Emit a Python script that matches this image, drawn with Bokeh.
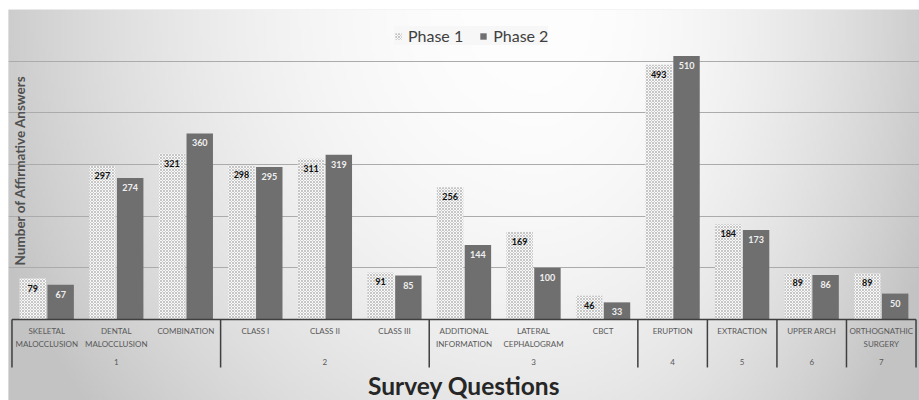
import numpy as np
from math import pi
from bokeh.plotting import figure
from bokeh.models import FactorRange, ColumnDataSource, Legend, LegendItem, Label
from bokeh.transform import dodge
from bokeh.core.properties import value
from bokeh.embed import file_html
from bokeh.resources import INLINE

# ---------------- data ----------------
groups = ["1", "1", "1", "2", "2", "2", "3", "3", "3", "4", "5", "6", "7"]
categories = ["SKELETAL\nMALOCCLUSION", "DENTAL\nMALOCCLUSION", "COMBINATION",
              "CLASS I", "CLASS II", "CLASS III",
              "ADDITIONAL\nINFORMATION", "LATERAL\nCEPHALOGRAM", "CBCT",
              "ERUPTION", "EXTRACTION", "UPPER ARCH", "ORTHOGNATHIC\nSURGERY"]
phase1 = [79, 297, 321, 298, 311, 91, 256, 169, 46, 493, 184, 89, 89]
phase2 = [67, 274, 360, 295, 319, 85, 144, 100, 33, 510, 173, 86, 50]
series_names = ["Phase 1", "Phase 2"]
grid_values = [100, 200, 300, 400, 500, 600]
y_title = "Number of Affirmative Answers"
x_title = "Survey Questions"

# ---------------- layout ----------------
Y0, Y1 = -157, 600
PAD = 0.05
FONT = value("Lato")

factors = list(zip(groups, categories))
xr = FactorRange(*factors, group_padding=0, factor_padding=0,
                 range_padding=PAD, range_padding_units="absolute")

p = figure(width=919, height=400, x_range=xr, y_range=(Y0, Y1),
           output_backend="svg", toolbar_location=None,
           x_axis_location=None, y_axis_location=None,
           min_border_left=8, min_border_right=0, min_border_top=9, min_border_bottom=0)
p.outline_line_color = None
p.border_fill_color = "white"
p.background_fill_color = "#e6e6e6"
p.xgrid.visible = False
p.ygrid.ticker = grid_values
p.ygrid.grid_line_color = "#ababab"
p.ygrid.grid_line_width = 1

# gradient background
n = len(categories)
x_start, x_end = -PAD, n + PAD
H, W = 130, 300
yy, xx = np.mgrid[0:H, 0:W]
xn = xx / (W - 1)
yt = 1.0 - yy / (H - 1)  # 0 at top
cx = 0.58
sx = np.where(xn < cx, cx, 1 - cx)
d = np.sqrt(((xn - cx) / sx) ** 2 + (yt / 1.5) ** 2)
d = np.clip(d, 0, 1.08)
inten = np.clip(254 - 50 * d ** 2, 0, 255).astype(np.uint8)
img = np.empty((H, W), dtype=np.uint32)
view = img.view(dtype=np.uint8).reshape((H, W, 4))
view[..., 0] = inten
view[..., 1] = inten
view[..., 2] = inten
view[..., 3] = 255
p.image_rgba(image=[img], x=x_start - 0.1, y=Y0, dw=(x_end - x_start) + 0.2, dh=Y1 - Y0, level="image")

src = ColumnDataSource(dict(
    x=factors,
    p1=phase1, p2=phase2,
    l1=[str(v) for v in phase1], l2=[str(v) for v in phase2],
    cat=categories,
))

r1 = p.vbar(x=dodge("x", -0.2, range=xr), top="p1", width=0.38, source=src,
            fill_color="#f8f8f8", line_color=None,
            hatch_pattern="diagonal_cross", hatch_color="#c6c6c6", hatch_scale=3, hatch_weight=1)
r2 = p.vbar(x=dodge("x", 0.2, range=xr), top="p2", width=0.38, source=src,
            fill_color="#6f6f6f", line_color=None)

p.text(x=dodge("x", -0.2, range=xr), y="p1", text="l1", source=src,
       text_align="center", text_baseline="top", y_offset=6,
       text_font=FONT, text_font_style="bold", text_font_size="9px", text_color="#111111")
p.text(x=dodge("x", 0.2, range=xr), y="p2", text="l2", source=src,
       text_align="center", text_baseline="top", y_offset=6,
       text_font=FONT, text_font_style="bold", text_font_size="9px", text_color="#f0f0f0")

# category axis
p.text(x="x", y=0, text="cat", source=src, text_align="center", text_baseline="top",
       y_offset=7, text_font=FONT, text_font_size="8px", text_color="#595959",
       text_line_height=1.25)

ugroups = []
for g in groups:
    if g not in ugroups:
        ugroups.append(g)
p.text(x=ugroups, y=[0] * len(ugroups), text=ugroups, text_align="center", text_baseline="middle",
       y_offset=43, text_font=FONT, text_font_size="8px", text_color="#595959")

bounds = [0]
for g in ugroups:
    bounds.append(bounds[-1] + groups.count(g))
p.segment(x0=bounds, y0=[0] * len(bounds), x1=bounds, y1=[-93] * len(bounds),
          line_color="#3f3f3f", line_width=1.5)
p.segment(x0=[bounds[0]], y0=[0], x1=[bounds[-1]], y1=[0], line_color="#3f3f3f", line_width=1.5)

# titles
p.add_layout(Label(x=n / 2, y=-128, text=x_title, text_align="center", text_baseline="middle",
                   text_font="Lato", text_font_style="bold", text_font_size="24.5px",
                   text_color="#262626"))
p.add_layout(Label(x=0.11, y=289, text=y_title, angle=pi / 2, text_align="center",
                   text_baseline="middle", text_font="Lato", text_font_style="bold",
                   text_font_size="13.5px", text_color="#505050"))

legend = Legend(items=[LegendItem(label=series_names[0], renderers=[r1]),
                       LegendItem(label=series_names[1], renderers=[r2])],
                orientation="horizontal", location=(386, 355),
                background_fill_color="#f6f6f6", background_fill_alpha=0.9,
                border_line_color=None, padding=8, spacing=16, margin=0,
                glyph_width=8, glyph_height=8, label_standoff=6, label_height=12,
                label_text_font="Lato", label_text_font_size="16px", label_text_color="#404040")
p.add_layout(legend)

open("out.html", "w").write(file_html(p, INLINE))
